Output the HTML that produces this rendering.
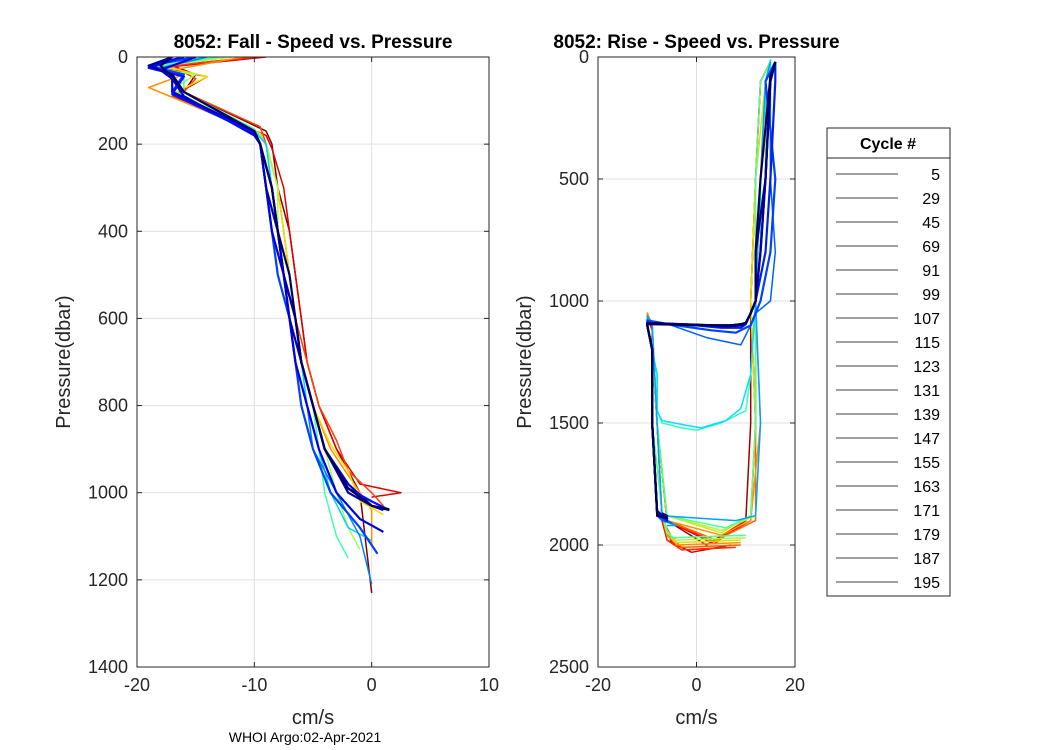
<!DOCTYPE html>
<html><head><meta charset="utf-8"><style>
body{margin:0;background:#fff;}
svg{display:block;font-family:"Liberation Sans",sans-serif;}
</style></head><body>
<svg id="chart" width="1050" height="750" viewBox="0 0 1050 750">
<rect width="1050" height="750" fill="#fff"/>
<g id="left"></g>
<g id="right"></g>
<g id="legend"></g>
<text x="305" y="742" font-size="14" text-anchor="middle">WHOI Argo:02-Apr-2021</text>
</svg>
<script>
// ---- data ----
const fallTicksX = [-20, -10, 0, 10];
const fallTicksY = [0, 200, 400, 600, 800, 1000, 1200, 1400];
const riseTicksX = [-20, 0, 20];
const riseTicksY = [0, 500, 1000, 1500, 2000, 2500];
const legendCycles = ["5","29","45","69","91","99","107","115","123","131","139","147","155","163","171","179","187","195"];
const fallColors = ["#800000","#e00000","#ff4000","#ff9000","#f0e000","#a0ff50","#40ffb0","#00d0ff","#0080ff","#0040ff","#0000e0","#0000c0","#0010ff","#0000a0","#000060"];
const fallP = [
 [0,20,40,80,170,200,300,400,500,600,700,800,900,950,1000,1230],
 [0,25,45,90,180,210,300,400,500,600,700,800,900,980,1000,1010],
 [0,20,50,80,160,200,300,400,500,600,700,800,880,950,1000,1030],
 [0,30,40,70,170,200,300,400,500,600,700,800,900,960,1040,1120],
 [0,20,45,85,175,205,300,400,500,600,700,800,890,950,1020,1050],
 [0,25,40,75,170,200,300,400,500,600,700,800,900,1000,1080,1130],
 [0,20,45,80,165,200,300,400,500,600,700,800,900,1000,1100,1150],
 [0,20,40,85,170,200,300,400,500,600,700,800,900,1000,1080,1110],
 [0,25,45,80,175,200,300,400,500,600,700,800,900,1000,1100,1210],
 [0,20,40,80,170,200,300,400,500,600,700,800,900,1000,1080,1140],
 [0,30,50,90,180,200,300,400,500,600,700,800,900,1000,1060,1090],
 [0,20,40,80,170,200,300,400,500,600,700,800,900,980,1030,1040],
 [0,25,45,85,175,200,300,400,500,600,700,800,900,990,1020,1040],
 [0,20,40,80,170,200,300,400,500,600,700,800,900,1000,1030,1040],
 [0,20,45,80,170,200,300,400,500,600,700,800,900,990,1030,1038]
];
const fallV = [
 [-10,-17,-15,-16,-9,-8.5,-8,-7,-6.5,-6,-5.5,-4.5,-3,-2,-1,0],
 [-9,-18,-14,-17,-9,-8.5,-7.5,-7,-6.5,-6,-5.5,-4.5,-3,-1,2.5,0],
 [-10,-17,-15,-16,-9.5,-9,-8,-7.5,-7,-6.5,-5.5,-4.5,-3,-2,0,1],
 [-11,-17,-16,-19,-10,-9,-8,-7.5,-7,-6.5,-6,-5,-3.5,-2,0,0],
 [-12,-18,-14,-17,-9.5,-9,-8,-7.5,-7,-6.5,-6,-5,-3.5,-2,-1,1],
 [-12,-19,-15,-17,-10,-9,-8,-8,-7,-6.5,-6,-5,-4,-3,-2,-1],
 [-13,-18,-16,-16,-10,-9,-8.5,-8,-7,-6.5,-6,-5,-4.5,-4,-3,-2],
 [-14,-19,-16,-17,-10,-9,-8.5,-8,-7.5,-7,-6,-5.5,-4.5,-3.5,-2,0],
 [-14,-18,-16,-17,-10,-9.5,-9,-8,-7.5,-7,-6.5,-5.5,-5,-3,-1,0],
 [-15,-19,-16,-17,-10,-9.5,-9,-8.5,-8,-7,-6.5,-6,-5,-3.5,-1,0.5],
 [-15,-18,-17,-16,-10,-9.5,-9,-8.5,-7.5,-7,-6.5,-5.5,-4.5,-3,-1,1],
 [-16,-19,-17,-17,-10,-9.5,-9,-8,-7.5,-7,-6,-5,-4,-2,0,1],
 [-16,-19,-16,-17,-10,-9.5,-8.5,-8,-7.5,-6.5,-6,-5,-4,-2,0,1.5],
 [-17,-19,-17,-16,-10,-9.5,-8.5,-8,-7.5,-6.5,-6,-5,-4,-2,0,1.5],
 [-17,-18,-17,-16,-10,-9.5,-8.5,-8,-7,-6.5,-6,-5,-4,-2,0,1.5]
];
const riseColors = ["#a00000","#e00000","#ff3000","#ff6000","#ff9000","#e0e000","#a0ff50","#50ff90","#30ffc0","#00e0ff","#00a0ff","#0060ff","#0040ff","#0020e0","#0000c0","#0000a0","#000080","#000050"];
const riseP = [
 [2010,2020,1990,1900,1500,1200,1100,1050,1100,1500,1900,2000,1900,1500,1000,500,100,20],
 [2000,2030,1980,1900,1500,1200,1090,1060,1120,1500,1900,1990,1900,1500,1000,500,100,20],
 [2010,2020,1980,1880,1500,1200,1100,1060,1100,1500,1900,1990,1880,1500,1000,500,100,20],
 [2000,2010,1970,1890,1500,1200,1100,1050,1100,1500,1900,1980,1900,1500,1000,500,100,20],
 [1990,2000,1960,1880,1500,1200,1100,1050,1100,1500,1900,1960,1900,1500,1000,500,100,20],
 [1980,1990,1950,1870,1500,1200,1100,1060,1100,1500,1880,1950,1880,1500,1000,500,100,20],
 [1970,1980,1950,1870,1500,1200,1100,1060,1100,1500,1880,1940,1880,1500,1000,500,100,20],
 [1960,1970,1940,1860,1500,1200,1100,1060,1100,1500,1880,1930,1880,1500,1000,500,100,20],
 [1100,1200,1300,1450,1500,1520,1530,1500,1450,1300,1000,800,500,300,100,50,20,10],
 [1100,1200,1300,1450,1490,1510,1520,1490,1440,1300,1000,800,500,300,100,50,20,10],
 [1920,1920,1900,1880,1500,1200,1100,1060,1100,1500,1880,1900,1880,1500,1000,500,100,20],
 [1900,1910,1900,1880,1500,1200,1100,1080,1100,1150,1180,1100,1050,1000,800,500,100,20],
 [1880,1900,1890,1870,1500,1200,1100,1080,1100,1120,1130,1100,1050,1000,800,500,100,20],
 [1880,1900,1880,1860,1500,1200,1100,1090,1100,1110,1110,1095,1050,1000,800,500,100,20],
 [1870,1890,1880,1860,1500,1200,1100,1090,1100,1105,1100,1090,1050,1000,800,500,100,20],
 [1870,1880,1870,1860,1500,1200,1100,1090,1100,1100,1095,1090,1050,1000,800,500,100,20],
 [1880,1890,1880,1870,1500,1200,1100,1090,1100,1100,1095,1090,1050,1000,800,500,80,20],
 [1880,1890,1880,1870,1500,1200,1100,1095,1100,1100,1095,1090,1050,1000,800,500,80,20]
];
const riseV = [
 [6,-2,-5,-7,-8,-9,-9,-10,-9,-8,-6,2,10,11,11,12,13,15],
 [7,-1,-6,-7,-8,-9,-9,-10,-9,-8,-6,3,11,12,11,12,13,15],
 [8,-3,-6,-7,-8,-9,-10,-10,-9,-8,-6,4,11,12,12,13,14,15],
 [9,-3,-5,-7,-8,-9,-10,-10,-9,-8,-6,4,12,12,11,12,13,15],
 [9,-4,-6,-7,-8,-9,-10,-10,-9,-8,-6,5,11,13,12,14,14,15],
 [9,-4,-6,-7,-9,-9,-10,-10,-9,-8,-6,5,11,12,11,12,14,15],
 [10,-4,-6,-7,-8,-9,-10,-10,-9,-8,-6,5,12,13,12,14,14,15],
 [10,-5,-6,-7,-9,-9,-10,-10,-9,-8,-6,6,11,12,12,12,13,15],
 [-10,-9,-8,-8,-7,-3,0,5,10,11,12,12,13,14,14,15,15,15],
 [-10,-9,-8,-8,-7,-2,1,6,9,11,12,13,13,14,14,15,15,15],
 [-6,-4,-7,-8,-9,-9,-10,-10,-9,-8,-7,8,12,13,12,13,14,15],
 [-6,-5,-7,-8,-9,-9,-10,-10,-5,2,9,11,12,15,16,15,15,16],
 [-6,-6,-7,-8,-9,-9,-10,-10,-4,3,8,11,12,13,15,16,14,16],
 [-7,-6,-7,-8,-9,-9,-10,-10,0,5,9,10,11,12,14,15,16,16],
 [-7,-6,-7,-8,-9,-9,-10,-10,2,6,9,10,11,12,13,14,15,16],
 [-7,-6,-8,-8,-9,-9,-10,-10,3,7,9,10,11,12,13,14,15,16],
 [-7,-6,-8,-8,-9,-9,-10,-10,4,7,9,10,11,12,12,14,15,16],
 [-7,-6,-8,-8,-9,-9,-10,-10,4,7,9,10,11,12,12,13,15,16]
];
// ---- drawing ----
const NS = "http://www.w3.org/2000/svg";
function mk(tag, attrs, parent){const e=document.createElementNS(NS,tag);for(const k in attrs)e.setAttribute(k,attrs[k]);parent.appendChild(e);return e;}
function panel(g, L, R, T, B, xmin, xmax, ymax, xt, yt, title, P, V, cols, prefix){
  const sx=v=>L+(v-xmin)/(xmax-xmin)*(R-L);
  const sy=p=>T+p/ymax*(B-T);
  mk('rect',{x:L,y:T,width:R-L,height:B-T,fill:'#fff'},g);
  xt.forEach(t=>{const l=mk('line',{x1:sx(t),x2:sx(t),y1:T,y2:B,stroke:'#e0e0e0','stroke-width':1},g);
    
    });
  yt.forEach(t=>{const l=mk('line',{x1:L,x2:R,y1:sy(t),y2:sy(t),stroke:'#e0e0e0','stroke-width':1},g);
    
    });
  const cp=mk('clipPath',{id:prefix+'clip'},g);mk('rect',{x:L,y:T,width:R-L,height:B-T},cp);
  const lg=mk('g',{'clip-path':'url(#'+prefix+'clip)'},g);
  P.forEach((ps,i)=>{
    const d=ps.map((p,j)=>(j?'L':'M')+sx(V[i][j]).toFixed(1)+','+sy(p).toFixed(1)).join('');
    const path=mk('path',{d:d,fill:'none',stroke:cols[i],'stroke-width':i>=cols.length-6?2.2:1.5,'stroke-linejoin':'round'},lg);
    
    
  });
  const fr=mk('rect',{x:L,y:T,width:R-L,height:B-T,fill:'none',stroke:'#262626','stroke-width':1},g);
  
  
  xt.forEach(t=>{
    mk('line',{x1:sx(t),x2:sx(t),y1:B,y2:B-5,stroke:'#262626'},g);mk('line',{x1:sx(t),x2:sx(t),y1:T,y2:T+5,stroke:'#262626'},g);
    const tx=mk('text',{x:sx(t),y:B+24,'font-size':18,'text-anchor':'middle',fill:'#262626'},g);tx.textContent=t;
    
    
  });
  yt.forEach(t=>{
    mk('line',{x1:L,x2:L+5,y1:sy(t),y2:sy(t),stroke:'#262626'},g);mk('line',{x1:R,x2:R-5,y1:sy(t),y2:sy(t),stroke:'#262626'},g);
    const tx=mk('text',{x:L-9,y:sy(t)+6,'font-size':18,'text-anchor':'end',fill:'#262626'},g);tx.textContent=t;
    
    
  });
  const ti=mk('text',{x:(L+R)/2,y:T-9,'font-size':19,'font-weight':'bold','text-anchor':'middle'},g);ti.textContent=title;
  
  
  const xl=mk('text',{x:(L+R)/2,y:B+57,'font-size':20,'text-anchor':'middle',fill:'#262626'},g);xl.textContent='cm/s';
  
  
  const yl=mk('text',{x:0,y:0,'font-size':20,'text-anchor':'middle',fill:'#262626',transform:'translate('+(L-67)+','+((T+B)/2)+') rotate(-90)'},g);yl.textContent='Pressure(dbar)';
  
  
}
panel(document.getElementById('left'),137,489,57,667,-20,10,1400,fallTicksX,fallTicksY,'8052: Fall - Speed vs. Pressure',fallP,fallV,fallColors,'fall-');
panel(document.getElementById('right'),598,795,57,667,-20,20,2500,riseTicksX,riseTicksY,'8052: Rise - Speed vs. Pressure',riseP,riseV,riseColors,'rise-');
// legend
const lgG=document.getElementById('legend');
mk('rect',{x:827,y:128,width:123,height:468,fill:'#fff',stroke:'#262626','stroke-width':1},lgG);
mk('line',{x1:827,x2:950,y1:158,y2:158,stroke:'#262626'},lgG);
const lt=mk('text',{x:888,y:149,'font-size':16,'font-weight':'bold','text-anchor':'middle'},lgG);lt.textContent='Cycle #';


legendCycles.forEach((c,i)=>{
  const y=174+i*24;
  const ln=mk('line',{x1:836,x2:898,y1:y,y2:y,stroke:'#000','stroke-width':0.7},lgG);
  
  
  const t=mk('text',{x:940,y:y+6,'font-size':16,'text-anchor':'end'},lgG);t.textContent=c;
  
  
});
</script>
</body></html>
